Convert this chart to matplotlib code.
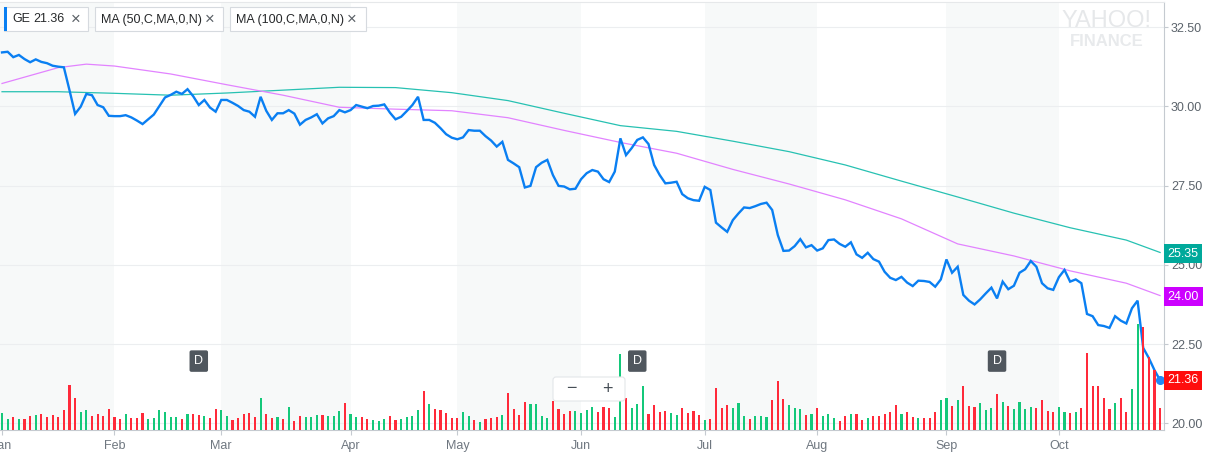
import matplotlib
matplotlib.use("Agg")
import matplotlib.pyplot as plt
from matplotlib.patches import Rectangle, FancyBboxPatch
from matplotlib.transforms import Affine2D, blended_transform_factory

W, H = 1211, 458

# GE daily data, 2017 (x = trading day index)
months = ["Jan", "Feb", "Mar", "Apr", "May", "Jun", "Jul", "Aug", "Sep", "Oct"]
month_start = [0, 20, 39, 62, 81, 103, 125, 145, 168, 188]

close = [
    31.70, 31.72, 31.55, 31.62, 31.49, 31.39, 31.48, 31.40, 31.36, 31.28,
    31.25, 31.23, 30.51, 29.76, 29.99, 30.39, 30.35, 30.04, 29.97, 29.70,
    29.69, 29.69, 29.72, 29.65, 29.55, 29.44, 29.59, 29.74, 30.01, 30.28,
    30.36, 30.46, 30.39, 30.54, 30.32, 30.04, 30.20, 29.96, 29.83, 30.20,
    30.20, 30.11, 30.01, 29.88, 29.83, 29.67, 30.30, 29.86, 29.57, 29.78,
    29.78, 29.88, 29.77, 29.42, 29.57, 29.65, 29.75, 29.46, 29.62, 29.69,
    29.88, 29.81, 29.88, 30.04, 29.99, 29.94, 30.01, 30.02, 30.06, 29.80,
    29.59, 29.67, 29.85, 30.04, 30.30, 29.57, 29.57, 29.48, 29.31, 29.12,
    29.01, 28.96, 29.02, 29.25, 29.23, 29.23, 29.06, 28.92, 28.73, 28.88,
    28.31, 28.20, 28.08, 27.44, 27.49, 28.08, 28.22, 28.31, 27.83, 27.49,
    27.47, 27.38, 27.40, 27.70, 27.89, 27.99, 27.94, 27.70, 27.61, 27.94,
    28.99, 28.46, 28.68, 28.94, 29.02, 28.81, 28.15, 27.83, 27.57, 27.59,
    27.62, 27.23, 27.10, 27.04, 27.02, 27.46, 27.36, 26.33, 26.18, 26.04,
    26.41, 26.62, 26.81, 26.79, 26.85, 26.92, 26.96, 26.73, 25.94, 25.44,
    25.45, 25.59, 25.81, 25.55, 25.62, 25.45, 25.52, 25.78, 25.80, 25.66,
    25.57, 25.71, 25.33, 25.22, 25.38, 25.18, 25.10, 24.78, 24.59, 24.52,
    24.62, 24.44, 24.33, 24.50, 24.49, 24.46, 24.31, 24.54, 25.17, 24.75,
    24.94, 24.05, 23.87, 23.75, 23.91, 24.10, 24.28, 23.94, 24.47, 24.23,
    24.34, 24.75, 24.86, 25.12, 24.94, 24.42, 24.26, 24.21, 24.61, 24.84,
    24.47, 24.54, 24.42, 23.45, 23.38, 23.10, 23.07, 23.01, 23.38, 23.24,
    23.15, 23.63, 23.87, 22.38, 22.06, 21.68, 21.36,
]

volume = [
    17, 11, 13, 11, 11, 14, 15, 16, 13, 15,
    13, 20, 45, 32, 18, 20, 14, 16, 14, 21,
    13, 11, 16, 12, 12, 17, 11, 12, 20, 18,
    13, 13, 11, 16, 16, 15, 14, 12, 21, 20,
    14, 10, 12, 16, 17, 13, 32, 16, 12, 13,
    11, 23, 9, 14, 13, 13, 15, 15, 14, 14,
    19, 27, 16, 13, 13, 11, 10, 9, 11, 14,
    10, 11, 13, 14, 20, 39, 26, 21, 20, 17,
    12, 12, 18, 14, 10, 8, 11, 12, 13, 15,
    37, 21, 15, 28, 26, 26, 14, 12, 29, 21,
    16, 19, 19, 17, 20, 23, 18, 23, 22, 13,
    76, 32, 22, 26, 44, 16, 25, 18, 19, 17,
    15, 22, 17, 19, 15, 10, 11, 42, 22, 25,
    22, 27, 14, 11, 14, 14, 13, 30, 49, 31,
    25, 22, 21, 15, 16, 22, 14, 16, 12, 9,
    14, 16, 16, 10, 12, 14, 14, 16, 18, 25,
    16, 18, 13, 12, 12, 12, 18, 30, 32, 24,
    30, 44, 24, 23, 27, 20, 22, 36, 28, 24,
    21, 28, 21, 23, 22, 30, 19, 18, 23, 18,
    17, 18, 22, 77, 44, 44, 32, 21, 27, 32,
    18, 41, 106, 103, 73, 60, 22,
]

# g = up day, r = down day
vol_dir = ("ggrgrrgrrr" "rrrrggrrrr" "rrgrrrgggg" "ggrgrrgrrg" "grrrrrgrrg"
           "rgrrgggrgg" "grggrrgggr" "r"
           "ggggrgrrrr" "rggrgrrrgr" "rrrggggrrr" "rggggrrrgg" "rgggrrrrgg"
           "rrrrgrrrrg" "ggrgggrrrgg"
           "grgrgggrrg" "rrgrrrrrgr" "rgrrrggrgr" "rrgggrgrgg" "ggrrrrggrg"
           "rrrrrrgrrg" "grrrr")

ma50_idx = [0, 10, 15, 20, 30, 40, 50, 60, 70, 80, 90, 100, 110, 120, 130,
            140, 150, 160, 170, 180, 190, 200, 206]
ma50 = [30.72, 31.22, 31.33, 31.27, 31.02, 30.68, 30.35, 29.97, 29.91, 29.86,
        29.64, 29.24, 28.86, 28.52, 28.01, 27.55, 27.05, 26.45, 25.66, 25.28,
        24.81, 24.42, 24.03]
ma100_idx = [0, 10, 20, 30, 40, 50, 60, 70, 80, 90, 100, 110, 120, 130, 140,
             150, 160, 170, 180, 190, 200, 206]
ma100 = [30.46, 30.46, 30.41, 30.35, 30.42, 30.51, 30.60, 30.59, 30.43, 30.18,
         29.78, 29.39, 29.21, 28.90, 28.57, 28.15, 27.64, 27.14, 26.63, 26.17,
         25.78, 25.39]

dividend_idx = [35, 113, 177]
last_close, last_ma50, last_ma100 = 21.36, 24.00, 25.35
price_ticks = [20.0, 22.5, 25.0, 27.5, 30.0, 32.5]

C_PRICE = "#0a7ff2"
C_MA50 = "#e283ff"
C_MA100 = "#27c1b2"
C_UP = "#14c87a"
C_DOWN = "#ff2a3a"


def solve():
    plt.rcParams["font.family"] = ["Liberation Sans", "DejaVu Sans"]
    fig = plt.figure(figsize=(W / 100, H / 100), dpi=100)
    fig.patch.set_facecolor("white")
    ax = fig.add_axes([0, 28 / H, 1164 / W, 428 / H])
    ax2 = ax.twinx()  # volume, drawn over the price pane
    n = len(close)
    x = list(range(n))
    ax.set_xlim(-0.36, 206.7)
    ax.set_ylim(19.79, 33.29)

    # alternating month bands
    for k in range(0, len(month_start), 2):
        lo = month_start[k] if k > 0 else -0.4
        hi = month_start[k + 1]
        ax.axvspan(lo, hi, color="#f7f9f9", lw=0, zorder=0)

    for t in price_ticks:
        ax.axhline(t, color="#eceef0", lw=0.8, zorder=1)

    ax.plot(ma100_idx, ma100, color=C_MA100, lw=0.9, zorder=2)
    ax.plot(ma50_idx, ma50, color=C_MA50, lw=0.9, zorder=2)
    ax.plot(x, close, color=C_PRICE, lw=1.7, zorder=3, solid_joinstyle="miter")
    ax.plot([x[-1]], [close[-1]], "o", color="#2188f5", ms=5.5, zorder=4)

    ax.yaxis.tick_right()
    ax.yaxis.set_label_position("right")
    ax.set_yticks(price_ticks)
    ax.set_yticklabels(["%.2f" % t for t in price_ticks])
    ax.set_xticks(month_start)
    ax.set_xticklabels(months)
    ax.tick_params(axis="y", which="both", left=False, labelleft=False,
                   right=True, labelright=True, length=3, width=0.8,
                   color="#c5cad0", labelcolor="#5b636b", labelsize=9, pad=2)
    ax.tick_params(axis="x", length=3.5, width=0.8, color="#c5cad0",
                   labelcolor="#6f7780", labelsize=9, pad=4)
    ax.spines["left"].set_visible(False)
    ax.spines["bottom"].set_color("#c5cad0")
    ax.spines["right"].set_color("#c5cad0")
    ax.spines["top"].set_color("#e6e8ea")

    ax2.set_ylim(0, 428)
    cols = [C_UP if d == "g" else C_DOWN for d in vol_dir]
    ax2.bar(x, volume, width=0.38, color=cols, lw=0, zorder=2)
    ax2.set_yticks([])
    ax2.tick_params(axis="y", left=False, right=False, labelleft=False,
                    labelright=False)
    for s in ax2.spines.values():
        s.set_visible(False)

    # dividend markers
    bt = blended_transform_factory(ax.transData, ax.transAxes)
    for d in dividend_idx:
        ax2.text(d, 0.161, "D", transform=bt, ha="center", va="center",
                 color="white", fontsize=9,
                 bbox=dict(boxstyle="round,pad=0.38,rounding_size=0.15",
                           fc="#50575e", ec="none"))

    # value labels on the right axis
    rt = blended_transform_factory(ax.transAxes, ax.transData)
    for val, fc in [(last_ma100, "#00a99b"), (last_ma50, "#cc00ff"),
                    (last_close, "#ff0d0d")]:
        ax2.text(1.0032, val, "%.2f" % val, transform=rt, ha="left", va="center",
                 color="white", fontsize=9, clip_on=False, zorder=10,
                 bbox=dict(boxstyle="square,pad=0.28", fc=fc, ec="none"))

    # pixel transform (origin top-left) for overlay widgets
    pt = Affine2D().scale(1 / W, -1 / H).translate(0, 1) + fig.transFigure

    def ftext(px, py, s, **kw):
        fig.text(px / W, 1 - py / H, s, **kw)

    # legend chips
    chips = [(4, 88, "GE", "21.36", 76), (95, 223, "MA (50,C,MA,0,N)", None, 210),
             (230, 366, "MA (100,C,MA,0,N)", None, 352)]
    for x0, x1, lab, val, xx in chips:
        fig.add_artist(Rectangle((x0, 7), x1 - x0, 24, transform=pt,
                                 fc="white", ec="#d6dadf", lw=0.8))
        if val is not None:
            fig.add_artist(Rectangle((x0, 7), 3, 24, transform=pt,
                                     fc=C_PRICE, ec="none"))
            ftext(12, 19.5, lab, fontsize=9, color="#26282a", va="center")
            ftext(33, 19.5, val, fontsize=9, color="#26282a", va="center")
        else:
            ftext(x0 + 6, 19.5, lab, fontsize=9, color="#26282a", va="center")
        ftext(xx, 19, "\u00d7", fontsize=12, color="#5a6066", va="center",
              ha="center")

    # zoom control
    fig.add_artist(FancyBboxPatch((553, 377), 72, 24, transform=pt,
                                  boxstyle="round,pad=0,rounding_size=3",
                                  fc="white", ec="#e3e6e9", lw=0.8, zorder=5))
    fig.add_artist(Rectangle((590.5, 383), 0.8, 12, transform=pt,
                             fc="#c9cdd2", ec="none", zorder=6))
    ftext(571, 389, "\u2212", fontsize=13, color="#464e56", ha="center",
          va="center", zorder=6)
    ftext(607, 389, "+", fontsize=13, color="#464e56", ha="center",
          va="center", zorder=6)

    # watermark
    ftext(1107, 21, "YAHOO!", fontsize=17, color="#e6e8ea", ha="center",
          va="center")
    ftext(1107, 41, "FINANCE", fontsize=12, color="#e8eaec", ha="center",
          va="center", fontweight="bold")

    fig.savefig("out.png", dpi=100)


if __name__ == "__main__":
    solve()
